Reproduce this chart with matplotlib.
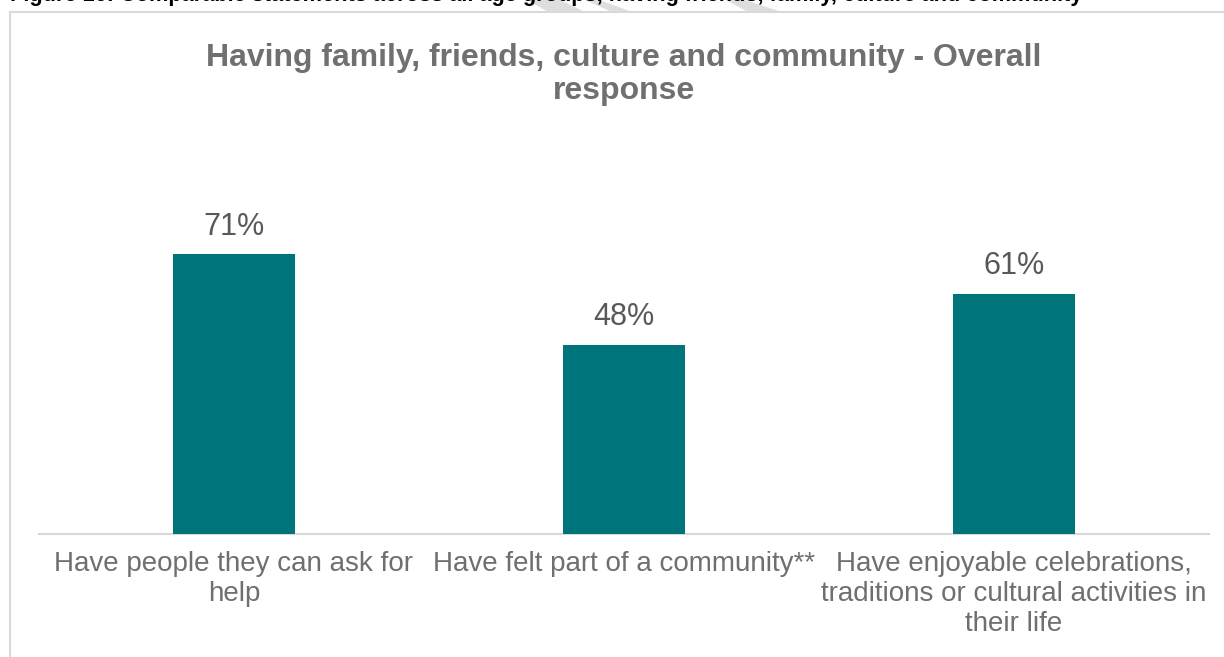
import matplotlib
matplotlib.use("Agg")
import matplotlib.pyplot as plt
from matplotlib.patches import Rectangle, Polygon

plt.rcParams['font.family'] = ['Liberation Sans', 'DejaVu Sans']

categories = [
    "Have people they can ask for\nhelp",
    "Have felt part of a community**",
    "Have enjoyable celebrations,\ntraditions or cultural activities in\ntheir life",
]
values = [71, 48, 61]
value_labels = ["71%", "48%", "61%"]

chart_title = "Having family, friends, culture and community - Overall\nresponse"
caption = ("Figure 16: Comparable statements across all age groups, having friends, "
           "family, culture and community")

W, H = 1224, 657
fig = plt.figure(figsize=(W / 100, H / 100), dpi=100)
fig.patch.set_facecolor("white")


def fx(px):
    return px / W


def fy(py):
    return 1 - py / H


# light diagonal watermark fragments along the top edge
for pts in ([(528, 0), (560, 0), (585, 12), (548, 12)],
            [(585, 0), (600, 0), (632, 12), (612, 12)],
            [(726, 0), (745, 0), (782, 12), (748, 12)]):
    fig.patches.append(Polygon([(fx(x), fy(y)) for x, y in pts], closed=True,
                               transform=fig.transFigure, facecolor="#dedede",
                               edgecolor="none", zorder=0))

# document caption, clipped by the top of the page
cap = fig.text(fx(10), fy(1.5), caption, ha="left", va="baseline",
               fontsize=14, fontweight="bold", color="black", zorder=1)
fig.canvas.draw()
bb = cap.get_window_extent()
cap.set_fontsize(14 * (1075 / bb.width))

# chart frame
fig.patches.append(Rectangle((fx(10), fy(H + 20)), fx(W + 40), (H + 8) / H,
                             transform=fig.transFigure, fill=False,
                             edgecolor="#d9d9d9", linewidth=1.5, zorder=2))

ax = fig.add_axes([fx(39), 1 - 534 / H, fx(1170), 394 / H])
x = range(len(categories))
bars = ax.bar(x, values, width=0.315, color="#00747b", zorder=3)
ax.set_xlim(-0.5, len(categories) - 0.5)
ax.set_ylim(0, 100)

for rect, lab in zip(bars, value_labels):
    ax.annotate(lab, (rect.get_x() + rect.get_width() / 2, rect.get_height()),
                xytext=(0, 9), textcoords="offset points", ha="center",
                va="bottom", fontsize=22, color="#595959")

ax.set_xticks(list(x))
ax.set_xticklabels(categories, fontsize=20, color="#6f6f6f",
                   linespacing=1.2, ha="center")
ax.tick_params(axis="x", length=0, pad=12)
ax.set_yticks([])
for side in ("left", "right", "top"):
    ax.spines[side].set_visible(False)
ax.spines["bottom"].set_color("#d9d9d9")
ax.spines["bottom"].set_linewidth(1.5)

fig.text(fx(624), fy(43), chart_title, ha="center", va="top",
         fontsize=23, fontweight="bold", color="#707070", linespacing=1.15)

fig.savefig("out.png", dpi=100, facecolor="white")
